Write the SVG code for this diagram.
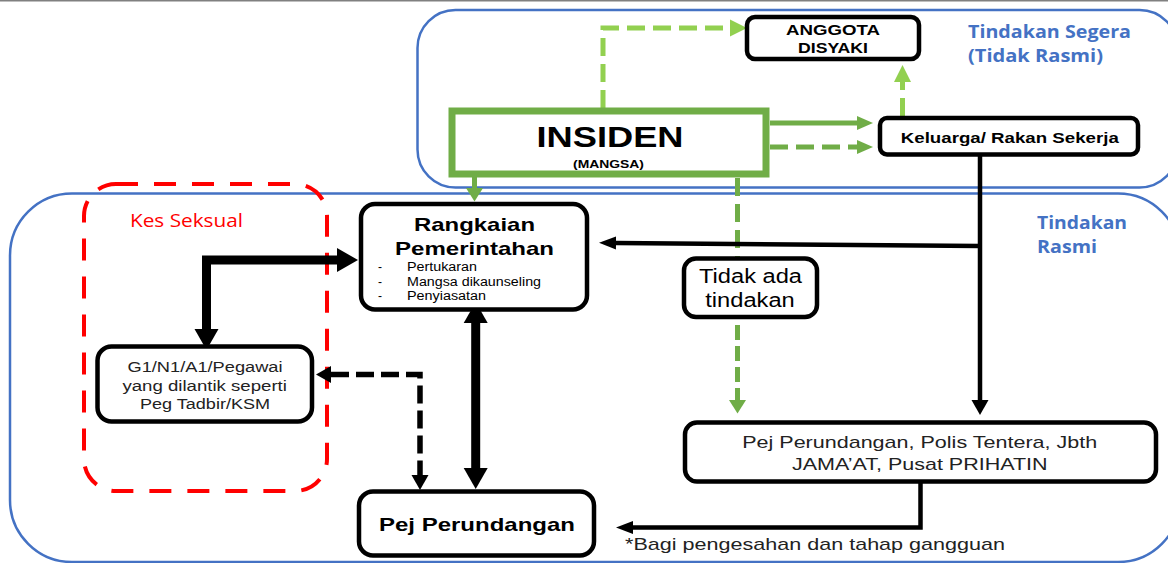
<svg xmlns="http://www.w3.org/2000/svg" width="1168" height="563" viewBox="0 0 1168 563">
<style>
.box{fill:#fff;stroke:#000;stroke-width:4.5}
.t{font-family:"Liberation Sans",Arial,sans-serif;fill:#000}
.b{font-weight:bold}
.c{font-family:"Open Sans","Liberation Sans",sans-serif}
.blue{fill:#4472c4;font-weight:bold}
.cont{fill:none;stroke:#4472c4;stroke-width:2.5}
.lg{fill:none;stroke:#92d050;stroke-width:5;stroke-dasharray:18 8}
.g{fill:none;stroke:#70ad47;stroke-width:5}
.gd{stroke-dasharray:18 8}
.k{fill:none;stroke:#000;stroke-width:4.5}
.kb{fill:none;stroke:#000;stroke-width:9;stroke-linejoin:miter}
.kd{fill:none;stroke:#000;stroke-width:5.5;stroke-dasharray:18 7}
</style>
<defs>
<marker id="mLG" markerUnits="userSpaceOnUse" markerWidth="18" markerHeight="18" viewBox="0 0 18 18" refX="0" refY="9" orient="auto-start-reverse"><path d="M0,0.5 L17,9 L0,17.5 z" fill="#92d050"/></marker>
<marker id="mGs" markerUnits="userSpaceOnUse" markerWidth="17" markerHeight="16" viewBox="0 0 17 16" refX="0" refY="8" orient="auto-start-reverse"><path d="M0,1 L16,8 L0,15 z" fill="#70ad47"/></marker>
<marker id="mGd" markerUnits="userSpaceOnUse" markerWidth="14" markerHeight="18" viewBox="0 0 14 18" refX="0" refY="9" orient="auto-start-reverse"><path d="M0,0.5 L13.5,9 L0,17.5 z" fill="#70ad47"/></marker>
<marker id="mK" markerUnits="userSpaceOnUse" markerWidth="16" markerHeight="18" viewBox="0 0 16 18" refX="0" refY="9" orient="auto-start-reverse"><path d="M0,0.5 L15,9 L0,17.5 z" fill="#000"/></marker>
<marker id="mKs" markerUnits="userSpaceOnUse" markerWidth="18" markerHeight="14" viewBox="0 0 18 14" refX="0" refY="7" orient="auto-start-reverse"><path d="M0,0.5 L17,7 L0,13.5 z" fill="#000"/></marker>
<marker id="mKb" markerUnits="userSpaceOnUse" markerWidth="22" markerHeight="26" viewBox="0 0 22 26" refX="0" refY="13" orient="auto-start-reverse"><path d="M0,1 L21,13 L0,25 z" fill="#000"/></marker>
</defs>

<line x1="0" y1="0.5" x2="1168" y2="0.5" stroke="#808080" stroke-width="2"/>

<g id="containers">
<rect class="cont" x="417.5" y="10" width="760" height="177.5" rx="38"/>
<rect class="cont" x="10" y="193.5" width="1170" height="368.5" rx="62"/>
<rect x="84" y="184" width="243" height="307" rx="32" fill="none" stroke="#ff0000" stroke-width="4" stroke-dasharray="22 16"/>
<text class="c blue" x="968" y="38" font-size="18.5" textLength="163" lengthAdjust="spacingAndGlyphs">Tindakan Segera</text>
<text class="c blue" x="968" y="62" font-size="18.5" textLength="135" lengthAdjust="spacingAndGlyphs">(Tidak Rasmi)</text>
<text class="c blue" x="1037" y="229" font-size="18.5" textLength="90" lengthAdjust="spacingAndGlyphs">Tindakan</text>
<text class="c blue" x="1037" y="253" font-size="18.5" textLength="60" lengthAdjust="spacingAndGlyphs">Rasmi</text>
<text class="c" x="130" y="227" font-size="18" textLength="113" lengthAdjust="spacingAndGlyphs" style="fill:#ff0000">Kes Seksual</text>
</g>

<g id="connectors">
<path class="lg" d="M603,108 V28 H730" marker-end="url(#mLG)"/>
<path class="lg" d="M902.5,116 V82" marker-end="url(#mLG)"/>
<path class="g" d="M770,123 H857" stroke-width="4.5" marker-end="url(#mGs)"/>
<path class="g gd" d="M770,147 H857" stroke-width="4.5" marker-end="url(#mGs)"/>
<path class="g" d="M474.5,177 V188" marker-end="url(#mGd)"/>
<path class="g gd" d="M737.5,178 V258"/>
<path class="g" d="M737.5,325 V400" style="stroke-dasharray:15 6" marker-end="url(#mGd)"/>
<path class="k" d="M980,154 V400" marker-end="url(#mK)"/>
<path class="k" d="M980,246 L616,243" stroke-width="4" marker-end="url(#mKs)"/>
<path class="kb" d="M206.5,329 V260 H337" marker-start="url(#mKb)" marker-end="url(#mKb)"/>
<path class="kb" d="M475.7,323 V468" marker-start="url(#mKb)" marker-end="url(#mKb)"/>
<path class="kd" d="M331,374.5 H420 V475" marker-start="url(#mK)" marker-end="url(#mK)"/>
<path class="k" d="M920.5,481.5 V527.5 H633" stroke-width="4" marker-end="url(#mKs)"/>
</g>

<g id="insiden">
<rect x="452" y="111" width="314" height="63" fill="#fff" stroke="#70ad47" stroke-width="7"/>
<text class="t b" x="610" y="146.7" font-size="30" text-anchor="middle" textLength="147" lengthAdjust="spacingAndGlyphs">INSIDEN</text>
<text class="t b" x="608.5" y="167.5" font-size="11" text-anchor="middle" textLength="71" lengthAdjust="spacingAndGlyphs">(MANGSA)</text>
</g>

<g id="anggota">
<rect class="box" x="747" y="17" width="172" height="42" rx="8"/>
<text class="t b" x="833" y="35" font-size="15" text-anchor="middle" textLength="94" lengthAdjust="spacingAndGlyphs">ANGGOTA</text>
<text class="t b" x="833" y="53.3" font-size="15" text-anchor="middle" textLength="70" lengthAdjust="spacingAndGlyphs">DISYAKI</text>
</g>

<g id="keluarga">
<rect class="box" x="880" y="118" width="258" height="36.5" rx="7"/>
<text class="t b" x="1009.8" y="143" font-size="15" text-anchor="middle" textLength="218" lengthAdjust="spacingAndGlyphs">Keluarga/ Rakan Sekerja</text>
</g>

<g id="rangkaian">
<rect class="box" x="361" y="204" width="226" height="105.5" rx="14"/>
<text class="t b" x="474.5" y="231" font-size="19" text-anchor="middle" textLength="121" lengthAdjust="spacingAndGlyphs">Rangkaian</text>
<text class="t b" x="474.5" y="255" font-size="19" text-anchor="middle" textLength="159" lengthAdjust="spacingAndGlyphs">Pemerintahan</text>
<text class="t" x="378" y="271" font-size="12">-</text>
<text class="t" x="378" y="285.5" font-size="12">-</text>
<text class="t" x="378" y="299.5" font-size="12">-</text>
<text class="t" x="407" y="271" font-size="12" textLength="70" lengthAdjust="spacingAndGlyphs">Pertukaran</text>
<text class="t" x="407" y="285.5" font-size="12" textLength="134" lengthAdjust="spacingAndGlyphs">Mangsa dikaunseling</text>
<text class="t" x="407" y="299.5" font-size="12" textLength="79" lengthAdjust="spacingAndGlyphs">Penyiasatan</text>
</g>

<g id="tidak-ada">
<rect class="box" x="684" y="258.5" width="133" height="58.5" rx="12"/>
<text class="t" x="750.5" y="282.7" font-size="20" text-anchor="middle" textLength="103" lengthAdjust="spacingAndGlyphs">Tidak ada</text>
<text class="t" x="750" y="306.7" font-size="20" text-anchor="middle" textLength="89.5" lengthAdjust="spacingAndGlyphs">tindakan</text>
</g>

<g id="g1">
<rect class="box" x="97.5" y="346.5" width="214.5" height="75" rx="14"/>
<text class="t" x="205" y="371.7" font-size="15.5" text-anchor="middle" textLength="155" lengthAdjust="spacingAndGlyphs" style="fill:#222">G1/N1/A1/Pegawai</text>
<text class="t" x="204.7" y="391" font-size="15.5" text-anchor="middle" textLength="164.5" lengthAdjust="spacingAndGlyphs" style="fill:#222">yang  dilantik  seperti</text>
<text class="t" x="205" y="409.3" font-size="15.5" text-anchor="middle" textLength="130" lengthAdjust="spacingAndGlyphs" style="fill:#222">Peg Tadbir/KSM</text>
</g>

<g id="pej-perundangan">
<rect class="box" x="359" y="491.5" width="235" height="64" rx="14"/>
<text class="t b" x="477" y="530.7" font-size="19" text-anchor="middle" textLength="196" lengthAdjust="spacingAndGlyphs">Pej Perundangan</text>
</g>

<g id="pej-polis">
<rect class="box" x="685" y="422.5" width="471" height="59" rx="12"/>
<text class="t" x="919.7" y="448.3" font-size="17" text-anchor="middle" textLength="355" lengthAdjust="spacingAndGlyphs" style="fill:#222">Pej Perundangan, Polis Tentera, Jbth</text>
<text class="t" x="919.8" y="470" font-size="17" text-anchor="middle" textLength="255.6" lengthAdjust="spacingAndGlyphs" style="fill:#222">JAMA’AT, Pusat PRIHATIN</text>
</g>

<text class="t" x="625" y="550" font-size="17" textLength="380" lengthAdjust="spacingAndGlyphs" style="fill:#222">*Bagi pengesahan dan tahap gangguan</text>
</svg>
